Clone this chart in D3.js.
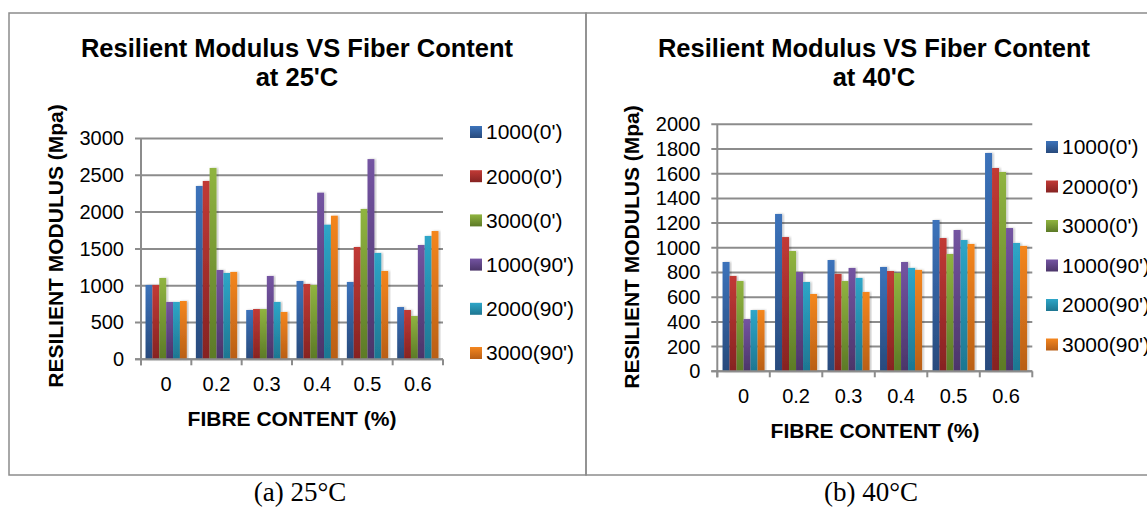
<!DOCTYPE html>
<html>
<head>
<meta charset="utf-8">
<script src="https://cdn.jsdelivr.net/npm/d3@7/dist/d3.min.js"></script>
<style>
	body { margin: 0; background: #fff; }
	svg { display: block; }
	text { font-family: "Liberation Sans", Arial, sans-serif; fill: #000; }
</style>
</head>
<body>
<svg id="chart" width="1147" height="507"></svg>
<script>

// Data

var fibre = ["0", "0.2", "0.3", "0.4", "0.5", "0.6"];
var series = ["1000(0')", "2000(0')", "3000(0')", "1000(90')", "2000(90')", "3000(90')"];

// values per series, one per fibre content
var mr25 = [
	[1010, 2355, 670, 1064, 1051, 710],
	[1010, 2423, 683, 1024, 1526, 670],
	[1105, 2600, 683, 1010, 2043, 588],
	[779, 1213, 1132, 2264, 2720, 1553],
	[779, 1173, 779, 1829, 1445, 1676],
	[792, 1187, 643, 1951, 1200, 1743]
];

var mr40 = [
	[885, 1274, 901, 845, 1225, 1768],
	[772, 1087, 788, 812, 1079, 1646],
	[731, 974, 731, 796, 950, 1614],
	[423, 804, 837, 885, 1144, 1160],
	[496, 723, 756, 837, 1063, 1039],
	[496, 626, 642, 821, 1031, 1015]
];

var ticks25 = [0, 500, 1000, 1500, 2000, 2500, 3000];
var ticks40 = [0, 200, 400, 600, 800, 1000, 1200, 1400, 1600, 1800, 2000];

var colors = [
	["#3c73bb", "#284a7c"],
	["#c23a36", "#862322"],
	["#90b440", "#5c7a27"],
	["#7454a2", "#4b3569"],
	["#2ea6c8", "#1e7691"],
	["#f4861f", "#b95f16"]
];

var svg = d3.select("#chart");
var defs = svg.append("defs");

colors.forEach(function(c, i) {
	var g = defs.append("linearGradient").attr("id", "grad" + i)
		.attr("x1", 0).attr("y1", 0).attr("x2", 0).attr("y2", 1);
	g.append("stop").attr("offset", "0%").attr("stop-color", c[0]);
	g.append("stop").attr("offset", "100%").attr("stop-color", c[1]);
});

var shadow = defs.append("filter").attr("id", "shadow")
	.attr("x", "-30%").attr("y", "-5%").attr("width", "160%").attr("height", "110%");
shadow.append("feDropShadow").attr("dx", 1.5).attr("dy", 0).attr("stdDeviation", 1)
	.attr("flood-color", "#000").attr("flood-opacity", 0.25);

// Frames

svg.append("rect").attr("x", 9).attr("y", 13).attr("width", 577).attr("height", 462)
	.attr("fill", "none").attr("stroke", "#8c8c8c").attr("stroke-width", 1.5);
svg.append("rect").attr("x", 586).attr("y", 13).attr("width", 600).attr("height", 462)
	.attr("fill", "none").attr("stroke", "#8c8c8c").attr("stroke-width", 1.5);

// Draw one chart

function drawChart(opt) {

	var g = svg.append("g");

	var x = d3.scaleBand().domain(fibre).range([opt.left, opt.right]);
	var xs = d3.scaleBand().domain(series)
		.range([x.bandwidth() * opt.pad, x.bandwidth() * (1 - opt.pad)]);
	var y = d3.scaleLinear().domain([0, opt.max]).range([opt.bottom, opt.top]);

	// gridlines
	g.selectAll(".grid").data(opt.ticks).enter().append("line")
		.attr("x1", opt.left - 6).attr("x2", opt.right)
		.attr("y1", function(d) { return y(d); }).attr("y2", function(d) { return y(d); })
		.attr("stroke", "#8c8c8c").attr("stroke-width", 2);

	// y axis
	var yAxis = d3.axisLeft(y).tickValues(opt.ticks).tickFormat(d3.format("d"))
		.tickSize(0).tickPadding(opt.tickPad);
	var ya = g.append("g").attr("transform", "translate(" + opt.left + ",0)").call(yAxis);
	ya.select(".domain").remove();
	ya.selectAll("text").style("font-size", "20px").attr("font-family", null);

	g.append("line").attr("x1", opt.left).attr("x2", opt.left)
		.attr("y1", opt.top).attr("y2", opt.bottom + 6)
		.attr("stroke", "#8c8c8c").attr("stroke-width", 2);

	// bars
	var mr = opt.data;
	series.forEach(function(s, i) {
		g.selectAll(".bar" + i).data(mr[i]).enter().append("rect")
			.attr("x", function(d, j) { return x(fibre[j]) + xs(s); })
			.attr("y", function(d) { return y(d); })
			.attr("width", xs.bandwidth())
			.attr("height", function(d) { return opt.bottom - y(d); })
			.attr("fill", "url(#grad" + i + ")")
			.attr("filter", "url(#shadow)");
	});

	// x axis
	g.append("line").attr("x1", opt.left - 6).attr("x2", opt.right)
		.attr("y1", opt.bottom).attr("y2", opt.bottom)
		.attr("stroke", "#8c8c8c").attr("stroke-width", 2);

	var bounds = fibre.map(function(f) { return x(f); }).concat([opt.right]);
	g.selectAll(".xtick").data(bounds).enter().append("line")
		.attr("x1", function(d) { return d; }).attr("x2", function(d) { return d; })
		.attr("y1", opt.bottom).attr("y2", opt.bottom + 6)
		.attr("stroke", "#8c8c8c").attr("stroke-width", 2);

	var xAxis = d3.axisBottom(x).tickSize(0).tickPadding(opt.xPad);
	var xa = g.append("g").attr("transform", "translate(0," + opt.bottom + ")").call(xAxis);
	xa.select(".domain").remove();
	xa.selectAll("text").style("font-size", "20px").attr("font-family", null);

	// titles
	g.append("text").attr("x", opt.cx).attr("y", 57).attr("text-anchor", "middle")
		.style("font-size", "25.5px").style("font-weight", "bold")
		.text("Resilient Modulus VS Fiber Content");
	g.append("text").attr("x", opt.cx).attr("y", 86).attr("text-anchor", "middle")
		.style("font-size", "25.5px").style("font-weight", "bold")
		.text(opt.sub);

	g.append("text").attr("transform", "translate(" + opt.yTitleX + "," + opt.yTitleY + ") rotate(-90)")
		.attr("text-anchor", "middle").attr("dy", "0.35em")
		.style("font-size", "21px").style("font-weight", "bold")
		.text("RESILIENT MODULUS (Mpa)");

	g.append("text").attr("x", opt.xTitleX).attr("y", opt.xTitleY).attr("text-anchor", "middle")
		.style("font-size", "21px").style("font-weight", "bold")
		.text("FIBRE CONTENT (%)");

	// legend
	series.forEach(function(s, i) {
		var ly = opt.legY + i * opt.legStep;
		g.append("rect").attr("x", opt.legX).attr("y", ly - 6).attr("width", 12).attr("height", 12)
			.attr("fill", "url(#grad" + i + ")");
		g.append("text").attr("x", opt.legX + 16).attr("y", ly).attr("dy", "0.35em")
			.style("font-size", "21px").text(s);
	});

	// caption
	svg.append("text").attr("x", opt.capX).attr("y", 501).attr("text-anchor", "middle")
		.style("font-family", "'Liberation Serif', 'Times New Roman', serif").style("font-size", "27px")
		.text(opt.caption);
}

drawChart({
	data: mr25, ticks: ticks25, max: 3000,
	left: 141, right: 443, top: 138.5, bottom: 359.3, pad: 0.09,
	tickPad: 17, xPad: 18,
	cx: 297, sub: "at 25'C",
	yTitleX: 56, yTitleY: 246, xTitleX: 292, xTitleY: 426,
	legX: 470, legY: 132, legStep: 44.2,
	capX: 300, caption: "(a) 25°C"
});

drawChart({
	data: mr40, ticks: ticks40, max: 2000,
	left: 717.3, right: 1032.3, top: 124.3, bottom: 371.3, pad: 0.1,
	tickPad: 17, xPad: 18,
	cx: 874, sub: "at 40'C",
	yTitleX: 632, yTitleY: 247, xTitleX: 875, xTitleY: 438,
	legX: 1046, legY: 147, legStep: 39.5,
	capX: 871, caption: "(b) 40°C"
});

</script>
</body>
</html>
